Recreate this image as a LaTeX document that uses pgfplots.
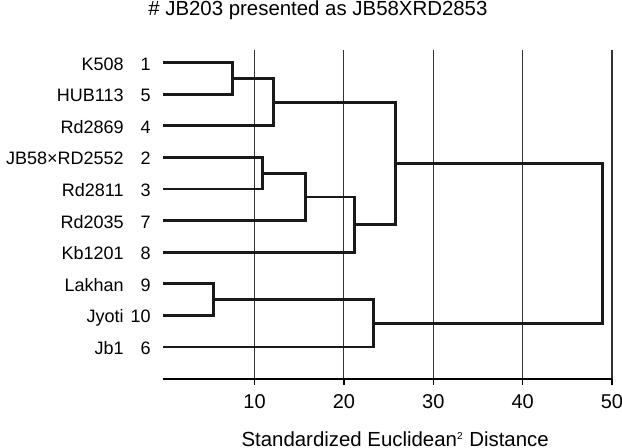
\documentclass[border=0pt]{standalone}
\usepackage{fontspec}
\setmainfont{Liberation Sans}
\usepackage{pgfplots}
\pgfplotsset{compat=1.18}

% leaf label: name, then the case number in a right-aligned box
\newcommand\lab[2]{#1\makebox[13.5pt][r]{#2}}
\pgfplotsset{dend/.style={black!90, line width=1.4pt, mark=none, solid, line join=miter}}

\begin{document}
\begin{tikzpicture}
\begin{axis}[
  scale only axis,
  width=224.5pt, height=164.3pt,
  xmin=-0.25, xmax=50,
  ymin=0, ymax=10.4,
  clip=false,
  axis x line=bottom,
  axis y line=left,
  x axis line style={-, line width=1pt},
  y axis line style={draw=none},
  ytick style={draw=none},
  xtick={10,20,30,40,50},
  xtick style={black, line width=0.6pt},
  tick align=outside,
  major tick length=3pt,
  xmajorgrids=true,
  grid style={black!80, line width=0.55pt},
  /pgf/number format/assume math mode=true,
  xticklabel style={font=\fontsize{10}{12}\selectfont, inner sep=0pt, yshift=-5pt},
  ytick={1,...,10},
  yticklabels={\lab{Jb1}{6}, \lab{Jyoti}{10}, \lab{Lakhan}{9}, \lab{Kb1201}{8},
    \lab{Rd2035}{7}, \lab{Rd2811}{3}, \lab{JB58×RD2552}{2}, \lab{Rd2869}{4},
    \lab{HUB113}{5}, \lab{K508}{1}},
  yticklabel style={font=\fontsize{9}{10}\selectfont, anchor=east, inner sep=0pt,
    text height=1.4ex, text depth=0pt, xshift=-3pt},
  title={\# JB203 presented as JB58XRD2853},
  title style={at={(rel axis cs:0.345,1)}, anchor=base, yshift=11pt,
    font=\fontsize{10.2}{12}\selectfont},
  xlabel={Standardized Euclidean\textsuperscript{\fontsize{5}{6}\selectfont 2} Distance},
  xlabel style={at={(rel axis cs:0.517,0)}, anchor=base, yshift=-34pt,
    font=\fontsize{10.2}{12}\selectfont},
]
% merges: child 1 -> height -> child 2 (y = 11 - row)
\addplot[dend] coordinates {(-0.2,10) (7.5,10) (7.5,9) (-0.2,9)};          % 1 + 5
\addplot[dend] coordinates {(7.5,9.5) (12.1,9.5) (12.1,8) (-0.2,8)};       % + 4
\addplot[dend] coordinates {(-0.2,7) (10.9,7) (10.9,6) (-0.2,6)};          % 2 + 3
\addplot[dend] coordinates {(10.9,6.5) (15.7,6.5) (15.7,5) (-0.2,5)};      % + 7
\addplot[dend] coordinates {(15.7,5.75) (21.2,5.75) (21.2,4) (-0.2,4)};    % + 8
\addplot[dend] coordinates {(12.1,8.75) (25.8,8.75) (25.8,4.875) (21.2,4.875)};
\addplot[dend] coordinates {(-0.2,3) (5.4,3) (5.4,2) (-0.2,2)};            % 9 + 10
\addplot[dend] coordinates {(5.4,2.5) (23.3,2.5) (23.3,1) (-0.2,1)};       % + 6
\addplot[dend] coordinates {(25.8,6.8125) (48.9,6.8125) (48.9,1.75) (23.3,1.75)};
\coordinate (bl) at (rel axis cs:0,0);
\coordinate (tr) at (rel axis cs:1,1);
\end{axis}
\pgfresetboundingbox
\path ([xshift=-81.5pt,yshift=-34.65pt]bl) rectangle ([xshift=5pt,yshift=25pt]tr);
\end{tikzpicture}
\end{document}
